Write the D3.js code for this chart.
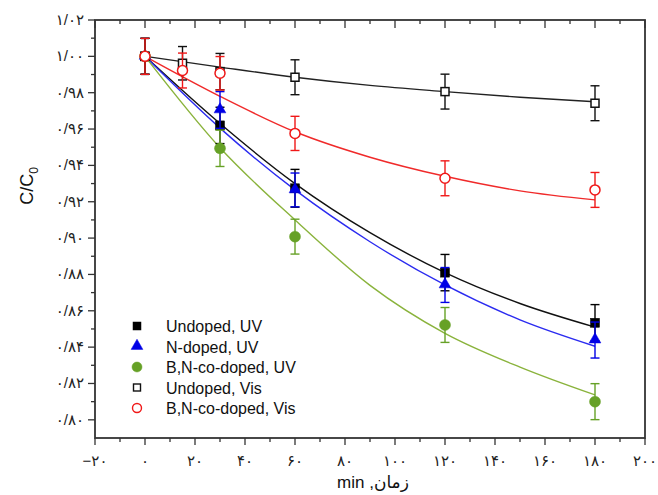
<!DOCTYPE html>
<html>
<head>
<meta charset="utf-8">
<script src="https://cdn.jsdelivr.net/npm/d3@7/dist/d3.min.js"></script>
<style>
  body { margin: 0; background: #fff; }
  svg { display: block; font-family: "Liberation Sans", Arial, "DejaVu Sans", sans-serif; }
</style>
</head>
<body>
<svg id="chart" width="658" height="495"></svg>
<script>
// sampling times (min)
var timesUV = [0, 30, 60, 120, 180];
var timesVis = [0, 15, 30, 60, 120, 180];

// measured C/C0 and error
var undopedUV = [1.000, 0.962, 0.9274, 0.881, 0.8534];
var undopedUVErr = [0.0099, 0.010, 0.0104, 0.010, 0.010];
var nDopedUV = [1.000, 0.9705, 0.9265, 0.8742, 0.8439];
var nDopedUVErr = [0.0099, 0.0101, 0.0093, 0.0096, 0.0099];
var bnUV = [1.000, 0.9494, 0.9008, 0.8522, 0.8100];
var bnUVErr = [0.0099, 0.0100, 0.0096, 0.0096, 0.0099];
var undopedVis = [1.000, 0.9962, 0.9916, 0.9885, 0.9806, 0.9742];
var undopedVisErr = [0.0099, 0.0092, 0.0100, 0.0096, 0.0096, 0.0096];
var bnVis = [1.000, 0.9922, 0.9907, 0.9576, 0.9329, 0.9265];
var bnVisErr = [0.0099, 0.0096, 0.0092, 0.0094, 0.0096, 0.0096];

// fitted curves
var fitTimes = [0, 30, 60, 90, 120, 150, 180];
var fitUndopedUV = [1, 0.963, 0.930, 0.903, 0.881, 0.864, 0.851];
var fitNDopedUV = [1, 0.9605, 0.9265, 0.898, 0.8742, 0.855, 0.8405];
var fitBNUV = [1, 0.9497, 0.910, 0.874, 0.8476, 0.829, 0.8137];
var fitUndopedVis = [1, 0.9941, 0.9885, 0.984, 0.9806, 0.9775, 0.975];
var fitBNVis = [1, 0.978, 0.9585, 0.9445, 0.934, 0.926, 0.921];

// ticks
var xMajor = [-20, 0, 20, 40, 60, 80, 100, 120, 140, 160, 180, 200];
var xMinor = [-10, 10, 30, 50, 70, 90, 110, 130, 150, 170, 190];
var yMajor = [0.80, 0.82, 0.84, 0.86, 0.88, 0.90, 0.92, 0.94, 0.96, 0.98, 1.00, 1.02];
var yMinor = [0.81, 0.83, 0.85, 0.87, 0.89, 0.91, 0.93, 0.95, 0.97, 0.99, 1.01];

var legendNames = ["Undoped, UV", "N-doped, UV", "B,N-co-doped, UV", "Undoped, Vis", "B,N-co-doped, Vis"];

var svg = d3.select('#chart');
var plotLeft = 95, plotRight = 645, plotTop = 20, plotBottom = 438;

var x = d3.scaleLinear().domain([-20, 200]).range([plotLeft, plotRight]);
var y = d3.scaleLinear().domain([0.79, 1.02]).range([plotBottom, plotTop]);

var persian = function(s) {
	return s.replace(/[0-9]/g, function(c) { return '۰۱۲۳۴۵۶۷۸۹'[+c]; });
};

var axisColor = '#333';

// series definitions
var series = [
	{ t: timesUV, v: undopedUV, e: undopedUVErr, fit: fitUndopedUV, color: '#000', line: '#111', shape: 'square', filled: true },
	{ t: timesUV, v: nDopedUV, e: nDopedUVErr, fit: fitNDopedUV, color: '#0000e6', line: '#2b2bf0', shape: 'triangle', filled: true },
	{ t: timesUV, v: bnUV, e: bnUVErr, fit: fitBNUV, color: '#66a126', line: '#8ab33c', shape: 'circle', filled: true },
	{ t: timesVis, v: undopedVis, e: undopedVisErr, fit: fitUndopedVis, color: '#111', line: '#222', shape: 'square', filled: false },
	{ t: timesVis, v: bnVis, e: bnVisErr, fit: fitBNVis, color: '#f01818', line: '#f02a2a', shape: 'circle', filled: false }
];

var line = d3.line()
	.x(function(d) { return x(d[0]); })
	.y(function(d) { return y(d[1]); })
	.curve(d3.curveMonotoneX);

// fit lines
series.forEach(function(s) {
	svg.append('path')
		.datum(d3.zip(fitTimes, s.fit))
		.attr('d', line)
		.attr('fill', 'none')
		.attr('stroke', s.line)
		.attr('stroke-width', 1.4);
});

function drawMarker(g, s, cx, cy) {
	var fill = s.filled ? s.color : '#fff';
	if (s.shape === 'square') {
		var a = s.filled ? 9 : 8;
		g.append('rect').attr('x', cx - a / 2).attr('y', cy - a / 2).attr('width', a).attr('height', a)
			.attr('fill', fill).attr('stroke', s.color).attr('stroke-width', s.filled ? 0.5 : 1.5);
	} else if (s.shape === 'circle') {
		g.append('circle').attr('cx', cx).attr('cy', cy).attr('r', s.filled ? 5.5 : 5)
			.attr('fill', fill).attr('stroke', s.color).attr('stroke-width', s.filled ? 0.5 : 1.5);
	} else {
		g.append('path').attr('d', d3.symbol().type(d3.symbolTriangle).size(60)())
			.attr('transform', 'translate(' + cx + ',' + (cy - 0.5) + ')')
			.attr('fill', fill).attr('stroke', s.color).attr('stroke-width', 0.5);
	}
}

// error bars and markers
series.forEach(function(s) {
	var g = svg.append('g');
	s.t.forEach(function(t, i) {
		var cx = x(t), y1 = y(s.v[i] + s.e[i]), y2 = y(s.v[i] - s.e[i]);
		g.append('line').attr('x1', cx).attr('x2', cx).attr('y1', y1).attr('y2', y2)
			.attr('stroke', s.color).attr('stroke-width', 1.4);
		[y1, y2].forEach(function(yy) {
			g.append('line').attr('x1', cx - 4.5).attr('x2', cx + 4.5).attr('y1', yy).attr('y2', yy)
				.attr('stroke', s.color).attr('stroke-width', 1.4);
		});
	});
	s.t.forEach(function(t, i) {
		drawMarker(g, s, x(t), y(s.v[i]));
	});
});

// axes
var axisG = svg.append('g').attr('stroke', axisColor).attr('stroke-width', 1.3);

// frame
axisG.append('rect').attr('x', plotLeft).attr('y', plotTop).attr('width', plotRight - plotLeft).attr('height', plotBottom - plotTop)
	.attr('fill', 'none').attr('stroke-width', 1.8);

// x ticks: outward at the bottom, inward at the top
xMajor.forEach(function(v) {
	axisG.append('line').attr('x1', x(v)).attr('x2', x(v)).attr('y1', plotBottom).attr('y2', plotBottom + 7);
	axisG.append('line').attr('x1', x(v)).attr('x2', x(v)).attr('y1', plotTop).attr('y2', plotTop + 8);
});
xMinor.forEach(function(v) {
	axisG.append('line').attr('x1', x(v)).attr('x2', x(v)).attr('y1', plotBottom).attr('y2', plotBottom + 4);
	axisG.append('line').attr('x1', x(v)).attr('x2', x(v)).attr('y1', plotTop).attr('y2', plotTop + 4);
});
yMajor.forEach(function(v) {
	axisG.append('line').attr('x1', plotLeft - 7).attr('x2', plotLeft).attr('y1', y(v)).attr('y2', y(v));
});
yMinor.forEach(function(v) {
	axisG.append('line').attr('x1', plotLeft - 4).attr('x2', plotLeft).attr('y1', y(v)).attr('y2', y(v));
});

// tick labels
svg.append('g').selectAll('text').data(xMajor).enter().append('text')
	.attr('x', function(d) { return x(d); })
	.attr('y', 466)
	.attr('text-anchor', 'middle')
	.attr('font-size', 15)
	.attr('fill', '#222')
	.text(function(d) { return persian(d3.format('d')(d).replace('-', '–')); });

svg.append('g').selectAll('text').data(yMajor).enter().append('text')
	.attr('x', plotLeft - 11)
	.attr('y', function(d) { return y(d) + 5; })
	.attr('text-anchor', 'end')
	.attr('font-size', 15)
	.attr('fill', '#222')
	.text(function(d) { return persian(d3.format('.2f')(d).replace('.', '/')); });

// axis titles
svg.append('text')
	.attr('x', (plotLeft + plotRight) / 2 + 3)
	.attr('y', 488)
	.attr('text-anchor', 'middle')
	.attr('font-size', 17)
	.attr('fill', '#111')
	.text('min ,زمان');

var yt = svg.append('text')
	.attr('transform', 'translate(33,' + 186 + ') rotate(-90)')
	.attr('text-anchor', 'middle')
	.attr('font-size', 18)
	.attr('fill', '#111');
yt.append('tspan').text('C/C');
yt.append('tspan').attr('font-size', 12).attr('dy', 5).text('0');

// legend
var legend = svg.append('g');
legendNames.forEach(function(name, i) {
	var ly = 326 + i * 20.5;
	var s = series[i];
	var lg = legend.append('g');
	if (s.shape === 'triangle') {
		drawMarker(lg, s, 137, ly);
	} else if (s.shape === 'square') {
		var a = s.filled ? 8 : 7;
		lg.append('rect').attr('x', 137 - a / 2).attr('y', ly - a / 2).attr('width', a).attr('height', a)
			.attr('fill', s.filled ? s.color : '#fff').attr('stroke', s.color).attr('stroke-width', s.filled ? 0.5 : 1.4);
	} else {
		lg.append('circle').attr('cx', 137).attr('cy', ly).attr('r', s.filled ? 5 : 4.5)
			.attr('fill', s.filled ? s.color : '#fff').attr('stroke', s.color).attr('stroke-width', s.filled ? 0.5 : 1.4);
	}
	legend.append('text')
		.attr('x', 166)
		.attr('y', ly + 6)
		.attr('font-size', 16)
		.attr('fill', '#111')
		.text(name);
});
</script>
</body>
</html>
